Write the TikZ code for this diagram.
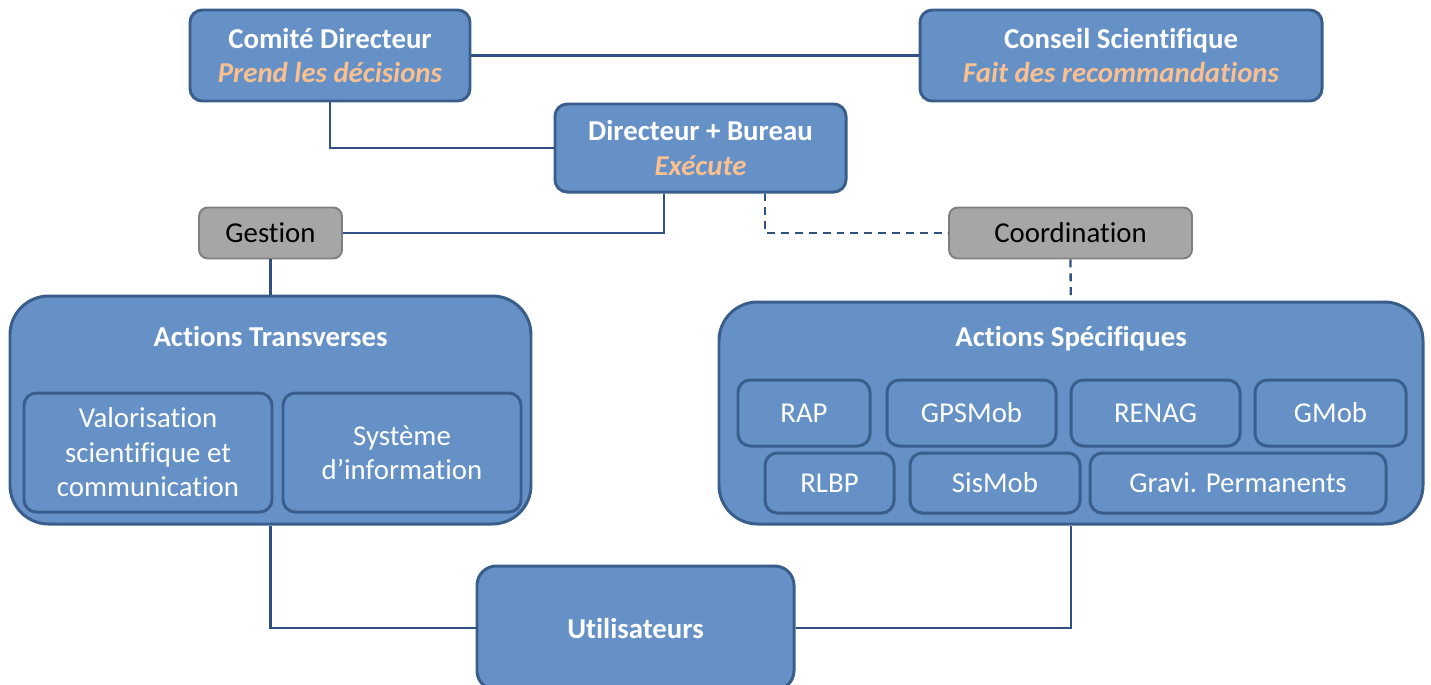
\documentclass[tikz,border=0pt]{standalone}
\usepackage{fontspec}
\setmainfont[Ligatures=NoCommon]{Carlito}
\usetikzlibrary{calc}

\definecolor{boxfill}{HTML}{6591C7}
\definecolor{boxline}{HTML}{3A5E8C}
\definecolor{linkcol}{HTML}{2F5080}
\definecolor{subtext}{HTML}{FAC090}
\definecolor{grayfill}{HTML}{A6A6A6}
\definecolor{grayline}{HTML}{7F7F7F}

\begin{document}
\begin{tikzpicture}[x=0.02cm, y=-0.02cm,
    every node/.style={font=\fontsize{16.4}{19.6}\selectfont, align=center},
    bluebox/.style={draw=boxline, fill=boxfill, line width=1.7pt, rounded corners=7pt, text=white, inner sep=0pt},
    bigbox/.style={bluebox, rounded corners=22pt},
    graybox/.style={draw=grayline, fill=grayfill, line width=1.1pt, rounded corners=5pt, inner sep=0pt},
    link/.style={draw=linkcol, line width=1.3pt},
    dlink/.style={link, dash pattern=on 4.5pt off 3.4pt}]

    \useasboundingbox (0,0) rectangle (1431,684);
    \clip (0,0) rectangle (1431,684);

    \node[bluebox, minimum width=280*0.02cm, minimum height=91*0.02cm](comite) at (330,55.5)
        {\textbf{Comité Directeur}\\\textcolor{subtext}{\textbf{\itshape Prend les décisions}}};
    \node[bluebox, minimum width=402*0.02cm, minimum height=91*0.02cm](conseil) at (1121,55.5)
        {\textbf{Conseil Scientifique}\\\textcolor{subtext}{\textbf{\itshape Fait des recommandations}}};
    \node[bluebox, minimum width=291*0.02cm, minimum height=88*0.02cm](directeur) at (700.5,148)
        {\textbf{Directeur + Bureau}\\\textcolor{subtext}{\textbf{\itshape Exécute}}};

    \node[graybox, minimum width=143*0.02cm, minimum height=51*0.02cm](gestion) at (270.5,233){Gestion};
    \node[graybox, minimum width=243*0.02cm, minimum height=51*0.02cm](coord) at (1070.5,233){Coordination};

    \node[bigbox, minimum width=521*0.02cm, minimum height=228*0.02cm](transv) at (270.5,410){};
    \node[text=white](transvtitle) at (270.5,336){\textbf{Actions Transverses}};
    \node[bluebox, minimum width=248*0.02cm, minimum height=119*0.02cm](valor) at (148,452.5)
        {Valorisation\\scientifique et\\communication};
    \node[bluebox, minimum width=238*0.02cm, minimum height=119*0.02cm](sysinfo) at (402,452.5)
        {Système\\d’information};

    \node[bigbox, minimum width=704*0.02cm, minimum height=222*0.02cm](specif) at (1071,413){};
    \node[text=white](speciftitle) at (1071,339){\textbf{Actions Spécifiques}};
    \node[bluebox, minimum width=132*0.02cm, minimum height=66*0.02cm](rap) at (804,413){RAP};
    \node[bluebox, minimum width=169*0.02cm, minimum height=66*0.02cm](gpsmob) at (971.5,413){GPSMob};
    \node[bluebox, minimum width=169*0.02cm, minimum height=66*0.02cm](renag) at (1155.5,413){RENAG};
    \node[bluebox, minimum width=151*0.02cm, minimum height=66*0.02cm](gmob) at (1330.5,413){GMob};
    \node[bluebox, minimum width=129*0.02cm, minimum height=60*0.02cm](rlbp) at (829.5,483){RLBP};
    \node[bluebox, minimum width=170*0.02cm, minimum height=60*0.02cm](sismob) at (995,483){SisMob};
    \node[bluebox, minimum width=296*0.02cm, minimum height=60*0.02cm](gravi) at (1238,483){Gravi. Permanents};

    \node[bluebox, rounded corners=11pt, minimum width=317*0.02cm, minimum height=124*0.02cm](users) at (635.5,628)
        {\textbf{Utilisateurs}};

    \draw[link](comite)--(conseil);
    \draw[link](comite.south)|-(directeur.west);
    \draw[link]($(directeur.south)+(-36.5,0)$)|-(gestion.east);
    \draw[dlink]($(directeur.south)+(64.5,0)$)|-(coord.west);
    \draw[link](gestion)--(transv);
    \draw[dlink](coord)--(specif);
    \draw[link](transv.south)|-(users.west);
    \draw[link](specif.south)|-(users.east);

\end{tikzpicture}
\end{document}
